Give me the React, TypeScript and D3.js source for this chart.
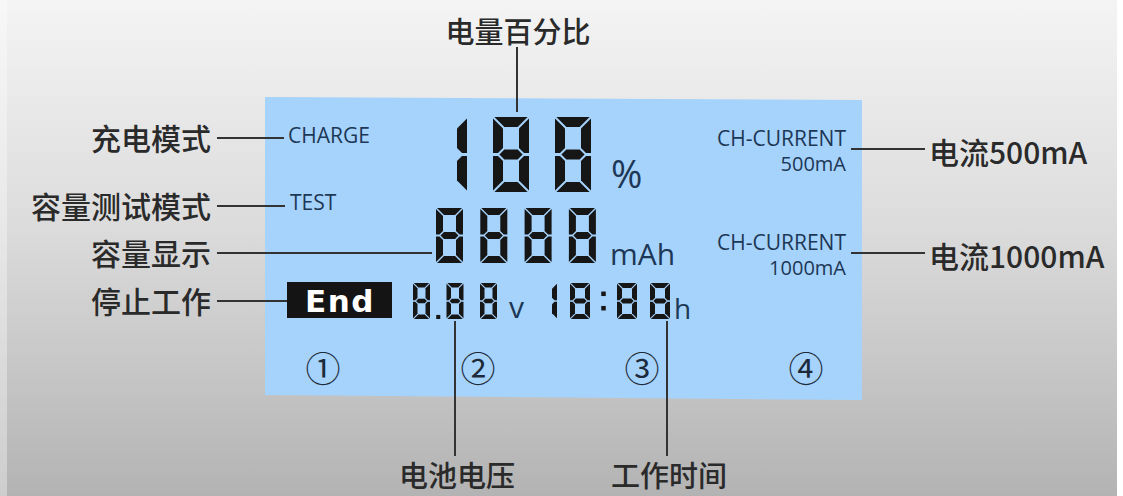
import React from 'react';
import * as d3 from 'd3';

// texts shown in the figure
const topLabel = '电量百分比';
const leftLabels = ['充电模式', '容量测试模式', '容量显示', '停止工作'];
const modeTags = ['CHARGE', 'TEST'];
const currentTags = ['CH-CURRENT', 'CH-CURRENT'];
const currentValues = ['500mA', '1000mA'];
const rightLabels = ['电流500mA', '电流1000mA'];
const bottomLabels = ['电池电压', '工作时间'];
const slotMarks = ['①', '②', '③', '④'];

// what the lcd digits read
const percentDigits = '188';
const capacityDigits = '8888';
const voltageDigits = '8.88';
const timeDigits = '18:88';

const W = 1123;
const H = 496;

// layout scales (rows / columns of the picture)
const leftY = d3.scaleOrdinal<string, number>().domain(leftLabels).range([137, 205, 252, 300]);
const leftLineEnd = d3.scaleOrdinal<string, number>().domain(leftLabels).range([284, 285, 432, 287]);
const modeY = d3.scaleOrdinal<string, number>().domain(modeTags).range([143, 210]);
const modeX = d3.scaleOrdinal<string, number>().domain(modeTags).range([288, 290]);
const currentY = d3.scaleBand<number>().domain([0, 1]).range([149, 357]).paddingInner(0);
const slotX = d3.scaleOrdinal<string, number>().domain(slotMarks).range([323, 478, 642, 806]);
const bottomX = d3.scaleOrdinal<string, number>().domain(bottomLabels).range([455, 667]);

const SEGS: Record<string, string> = {
  '0': 'abcdef', '1': 'bc', '2': 'abged', '3': 'abgcd', '4': 'fgbc',
  '5': 'afgcd', '6': 'afgedc', '7': 'abc', '8': 'abcdefg', '9': 'abcdfg',
};

const poly = d3.line<[number, number]>().curve(d3.curveLinearClosed);

function segPath(s: string, x: number, y: number, w: number, h: number, t: number) {
  const g = Math.max(0.8, t * 0.14);
  const ym = y + h / 2;
  const P: Record<string, [number, number][]> = {
    a: [[x + g, y], [x + w - g, y], [x + w - t - g, y + t], [x + t + g, y + t]],
    d: [[x + g, y + h], [x + w - g, y + h], [x + w - t - g, y + h - t], [x + t + g, y + h - t]],
    g: [[x + t / 2 + g, ym], [x + t + g, ym - t / 2], [x + w - t - g, ym - t / 2], [x + w - t / 2 - g, ym],
      [x + w - t - g, ym + t / 2], [x + t + g, ym + t / 2]],
    f: [[x, y + g], [x + t, y + t + g], [x + t, ym - t / 2 - g], [x + t / 2, ym - g], [x, ym - g]],
    e: [[x, ym + g], [x + t / 2, ym + g], [x + t, ym + t / 2 + g], [x + t, y + h - t - g], [x, y + h - g]],
    b: [[x + w, y + g], [x + w - t, y + t + g], [x + w - t, ym - t / 2 - g], [x + w - t / 2, ym - g], [x + w, ym - g]],
    c: [[x + w, ym + g], [x + w - t / 2, ym + g], [x + w - t, ym + t / 2 + g], [x + w - t, y + h - t - g], [x + w, y + h - g]],
  };
  return poly(P[s]) as string;
}

type DigitOpts = { x0: number; y: number; w: number; h: number; t: number; pitch: number; colonGap?: number };

function Digits({ text, o }: { text: string; o: DigitOpts }) {
  const marks: React.ReactNode[] = [];
  let cx = o.x0;
  const dot = Math.max(3, o.t * 0.9);
  text.split('').forEach((ch, i) => {
    if (ch === '.') {
      const mx = cx - (o.pitch - o.w) / 2;
      marks.push(<rect key={i} x={mx - dot / 2} y={o.y + o.h - dot} width={dot} height={dot} fill="#161616" />);
      return;
    }
    if (ch === ':') {
      const extra = o.colonGap || 0;
      const mx = cx - (o.pitch - o.w) / 2 + extra / 2;
      marks.push(<rect key={i + 'u'} x={mx - dot / 2} y={o.y + o.h * 0.3 - dot / 2} width={dot} height={dot} fill="#161616" />);
      marks.push(<rect key={i + 'l'} x={mx - dot / 2} y={o.y + o.h * 0.7 - dot / 2} width={dot} height={dot} fill="#161616" />);
      cx += extra;
      return;
    }
    const segs = SEGS[ch] || '';
    segs.split('').forEach((s) => {
      marks.push(<path key={i + s} d={segPath(s, cx, o.y, o.w, o.h, o.t)} fill="#161616" />);
    });
    cx += o.pitch;
  });
  return <g>{marks}</g>;
}

const cjk = '"Noto Sans CJK SC", "Noto Sans", sans-serif';
const latin = '"Open Sans", "Noto Sans", sans-serif';
const ink = '#2a2a2a';
const lcdInk = '#1d3756';

export default function App() {
  return (
    <svg width={W} height={H} style={{ position: 'absolute', left: 0, top: 0 }}>
      <defs>
        <linearGradient id="bg" x1="0" y1="0" x2="0" y2="1">
          <stop offset="0" stopColor="#f4f4f4" />
          <stop offset="0.45" stopColor="#dcdcdc" />
          <stop offset="1" stopColor="#b3b3b3" />
        </linearGradient>
      </defs>
      <rect x={0} y={0} width={W} height={H} fill="url(#bg)" />
      <rect x={0} y={0} width={7} height={H} fill="#ffffff" opacity={0.35} />
      <rect x={1117} y={0} width={6} height={H} fill="#ffffff" />

      {/* lcd panel */}
      <path d={poly([[265, 97], [862, 100], [862, 400], [265, 395]]) as string} fill="#a6d3fb" />

      {/* top label */}
      <text x={518} y={30} textAnchor="middle" dominantBaseline="central" fontFamily={cjk}
        fontSize={29} fontWeight={500} fill={ink}>{topLabel}</text>
      <line x1={517} x2={517} y1={47} y2={112} stroke="#333" strokeWidth={2} />

      {/* left labels */}
      {leftLabels.map((l) => (
        <g key={l}>
          <text x={211} y={leftY(l)} textAnchor="end" dominantBaseline="central" fontFamily={cjk}
            fontSize={30} fontWeight={500} fill={ink}>{l}</text>
          <line x1={217} x2={leftLineEnd(l)} y1={leftY(l) + 1} y2={leftY(l) + 1} stroke="#333" strokeWidth={2} />
        </g>
      ))}

      {modeTags.map((m) => (
        <text key={m} x={modeX(m)} y={modeY(m)} fontFamily={latin} fontSize={21} fill={lcdInk}>{m}</text>
      ))}

      {/* End badge */}
      <rect x={287} y={282} width={105} height={36} fill="#141414" />
      <text x={340} y={312} textAnchor="middle" fontFamily='"DejaVu Sans", sans-serif' fontSize={31}
        fontWeight={900} letterSpacing={1.5} fill="#ffffff">End</text>

      {/* segment digits */}
      <Digits text={percentDigits} o={{ x0: 431, y: 117, w: 36, h: 75, t: 10, pitch: 62 }} />
      <text x={611} y={188} fontFamily={latin} fontSize={38} fill={lcdInk}>%</text>
      <Digits text={capacityDigits} o={{ x0: 436, y: 208, w: 27, h: 55, t: 7, pitch: 44.3 }} />
      <text x={610} y={265} fontFamily={latin} fontSize={30} fill={lcdInk}>mAh</text>
      <Digits text={voltageDigits} o={{ x0: 413, y: 283, w: 17, h: 36, t: 4.5, pitch: 33.5 }} />
      <text x={509} y={318} fontFamily={latin} fontSize={30} fill={lcdInk}>v</text>
      <Digits text={timeDigits} o={{ x0: 537, y: 283, w: 20, h: 36, t: 5, pitch: 33, colonGap: 14 }} />
      <text x={674} y={319} fontFamily={latin} fontSize={28} fill={lcdInk}>h</text>

      {/* currents on the right */}
      {currentTags.map((c, i) => {
        const y = currentY(i) as number;
        return (
          <g key={i}>
            <text x={846} y={y - 3} textAnchor="end" fontFamily={latin} fontSize={21} fill={lcdInk}>{c}</text>
            <text x={846} y={y + 22} textAnchor="end" fontFamily={latin} fontSize={20} fill={lcdInk}>{currentValues[i]}</text>
            <line x1={851} x2={925} y1={y} y2={y} stroke="#333" strokeWidth={2} />
            <text x={929} y={y + 2} dominantBaseline="central" fontFamily={cjk} fontSize={30}
              fontWeight={500} fill={ink}>{rightLabels[i]}</text>
          </g>
        );
      })}

      {/* slot numbers */}
      {slotMarks.map((s) => (
        <text key={s} x={slotX(s)} y={366} textAnchor="middle" dominantBaseline="central" fontFamily={cjk}
          fontSize={35} fontWeight={400} fill="#1c2a3a">{s}</text>
      ))}

      {/* bottom labels */}
      {bottomLabels.map((b) => (
        <g key={b}>
          <line x1={bottomX(b)} x2={bottomX(b)} y1={321} y2={456} stroke="#333" strokeWidth={2} />
          <text x={bottomX(b) + 2} y={474} textAnchor="middle" dominantBaseline="central" fontFamily={cjk}
            fontSize={29} fontWeight={500} fill={ink}>{b}</text>
        </g>
      ))}
    </svg>
  );
}
